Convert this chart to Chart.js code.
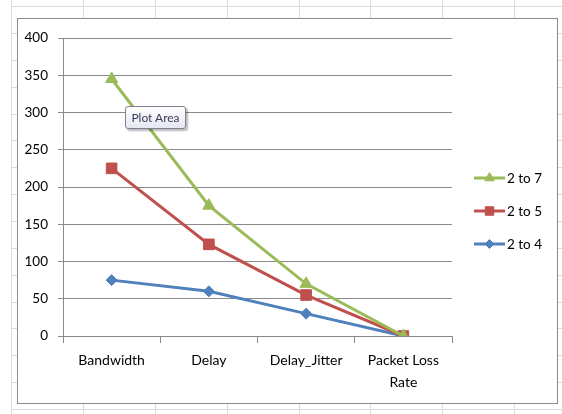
<!DOCTYPE html>
<html>
<head>
<meta charset="utf-8">
<script src="https://cdn.jsdelivr.net/npm/chart.js@4/dist/chart.umd.min.js"></script>
<style>
  html, body { margin: 0; padding: 0; background: #fff; }
  #sheet { position: relative; width: 562px; height: 414px; overflow: hidden; background: #fff; }
  .gl-h { position: absolute; left: 11px; right: 0; height: 1px; background: #dcdcdc; }
  .gl-v { position: absolute; top: 0; bottom: 0; width: 1px; background: #dcdcdc; }
  #frame { position: absolute; left: 17px; top: 18px; width: 539px; height: 384px; border: 1px solid #8a8a8a; background: #fff; }
  #chart { position: absolute; left: 0; top: 0; }
  #tip { position: absolute; left: 125px; top: 106px; width: 59px; height: 21px; border: 1px solid #7f8090;
         border-radius: 3px; background: linear-gradient(#ffffff, #e6e7f1); box-shadow: 2px 2px 2px rgba(0,0,0,0.28);
         font: 12px Lato, "DejaVu Sans", sans-serif; color: #3a3b5c; line-height: 21px; text-align: center; }
</style>
</head>
<body>
<div id="sheet">
  <div id="grid"></div>
  <div id="frame"></div>
  <canvas id="chart" width="562" height="414"></canvas>
  <div id="tip">Plot Area</div>
</div>
<script>
// Worksheet cell lines behind the embedded chart
const grid = document.getElementById('grid');
for (let k = -1; k <= 14; k++) {
  const d = document.createElement('div');
  d.className = 'gl-h';
  d.style.top = Math.round(33 + 26.86 * k) + 'px';
  grid.appendChild(d);
}
[11].concat([0, 1, 2, 3, 4, 5, 6].map(k => Math.round(83 + 71.85 * k))).forEach(x => {
  const d = document.createElement('div');
  d.className = 'gl-v';
  d.style.left = x + 'px';
  grid.appendChild(d);
});

// Chart data
const categories = ['Bandwidth', 'Delay', 'Delay_Jitter', ['Packet Loss', 'Rate']];
const seriesNames = ['2 to 7', '2 to 5', '2 to 4'];
const values2to7 = [345, 175, 70, 0];
const values2to5 = [225, 123, 55, 0];
const values2to4 = [75, 60, 30, 0];
const yMin = 0, yMax = 400, yStep = 50;

const colors = ['#9bbb59', '#c0504d', '#4f81bd'];
const styles = ['triangle', 'rect', 'rectRot'];
const radii = [7, 7.5, 5.5];
const legendRadii = [5.5, 6, 4.5];
const FONT = 'Lato, "DejaVu Sans", sans-serif';

function series(i, data) {
  return {
    label: seriesNames[i],
    data: data,
    borderColor: colors[i],
    backgroundColor: colors[i],
    borderWidth: 3,
    pointStyle: styles[i],
    pointRadius: radii[i],
    pointBorderWidth: 1,
    pointHoverRadius: radii[i],
    tension: 0,
    fill: false
  };
}

// Legend at the right: line sample with a marker, then the series name
const sideLegend = {
  id: 'sideLegend',
  afterDraw(chart) {
    const ctx = chart.ctx;
    const ys = [178, 211, 244];
    chart.data.datasets.forEach((ds, i) => {
      const y = ys[i];
      ctx.save();
      ctx.strokeStyle = ds.borderColor;
      ctx.lineWidth = 3;
      ctx.beginPath();
      ctx.moveTo(474, y);
      ctx.lineTo(505, y);
      ctx.stroke();
      ctx.fillStyle = ds.backgroundColor;
      ctx.lineWidth = 1;
      Chart.helpers.drawPoint(ctx, { pointStyle: ds.pointStyle, radius: legendRadii[i], borderWidth: 1, rotation: 0 }, 489.5, y);
      ctx.fillStyle = '#000';
      ctx.font = '13.5px ' + FONT;
      ctx.textBaseline = 'middle';
      ctx.textAlign = 'left';
      ctx.fillText(ds.label, 507, y + 1);
      ctx.restore();
    });
  }
};

new Chart(document.getElementById('chart'), {
  type: 'line',
  data: {
    labels: categories,
    datasets: [series(0, values2to7), series(1, values2to5), series(2, values2to4)]
  },
  options: {
    responsive: false,
    animation: false,
    devicePixelRatio: 1,
    layout: { padding: { left: 0, top: 38, right: 110, bottom: 0 } },
    plugins: { legend: { display: false }, tooltip: { enabled: false } },
    events: [],
    scales: {
      x: {
        type: 'category',
        offset: true,
        afterFit(scale) { scale.height = 78; },
        grid: { offset: true, drawOnChartArea: false, drawTicks: true, tickLength: 7, color: '#8a8a8a', lineWidth: 1 },
        border: { display: true, color: '#8a8a8a', width: 1 },
        ticks: { color: '#000', font: { family: FONT, size: 14, lineHeight: 1.6 }, padding: 6, maxRotation: 0, autoSkip: false }
      },
      y: {
        min: yMin,
        max: yMax,
        afterFit(scale) { scale.width = 63; },
        grid: { color: '#8a8a8a', lineWidth: 1, tickLength: 5 },
        border: { display: true, color: '#8a8a8a', width: 1 },
        ticks: { stepSize: yStep, color: '#000', font: { family: FONT, size: 13.5 }, padding: 10 }
      }
    }
  },
  plugins: [sideLegend]
});
</script>
</body>
</html>
